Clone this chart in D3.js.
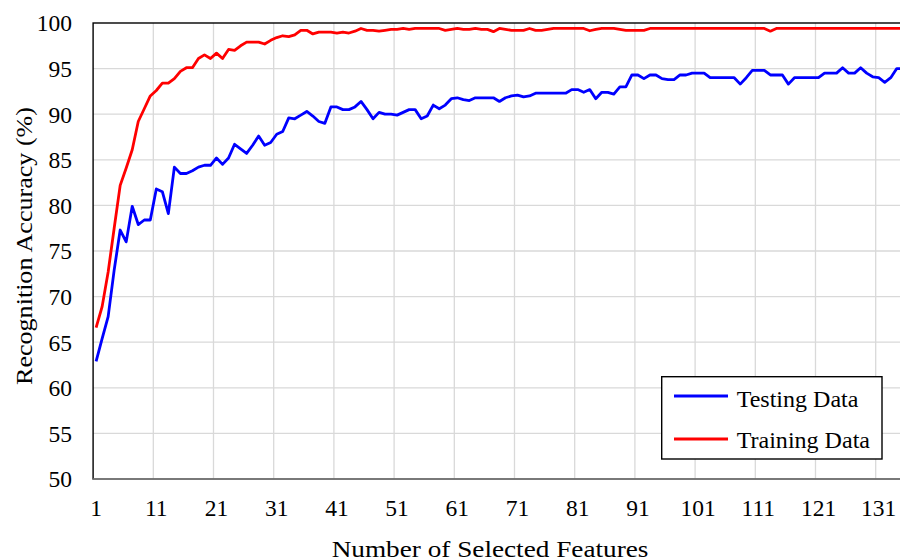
<!DOCTYPE html>
<html lang="en">
<head>
    <meta charset="utf-8">
    <title>Recognition Accuracy</title>
    <script src="https://d3js.org/d3.v7.min.js" charset="utf-8"></script>
    <style type="text/css">
        body {
            margin: 0;
            background: #fff;
        }
        svg text {
            font-family: "Liberation Serif", "Times New Roman", serif;
            fill: #000;
        }
    </style>
</head>
<body>
    <script type="text/javascript">
        // values, feature count 1..135
        var testing = [
            62.9, 65.4, 67.8, 72.9, 77.3, 76.0, 79.9, 77.9, 78.4, 78.4,
            81.8, 81.5, 79.1, 84.2, 83.5, 83.5, 83.8, 84.2, 84.4, 84.4,
            85.2, 84.5, 85.2, 86.7, 86.2, 85.7, 86.6, 87.6, 86.6, 86.9,
            87.8, 88.1, 89.6, 89.5, 89.9, 90.3, 89.8, 89.2, 89.0, 90.8,
            90.8, 90.5, 90.5, 90.8, 91.4, 90.5, 89.5, 90.2, 90.0, 90.0,
            89.9, 90.2, 90.5, 90.5, 89.5, 89.8, 91.0, 90.6, 91.0, 91.7,
            91.8, 91.6, 91.5, 91.8, 91.8, 91.8, 91.8, 91.4, 91.8, 92.0,
            92.1, 91.9, 92.0, 92.3, 92.3, 92.3, 92.3, 92.3, 92.3, 92.7,
            92.7, 92.4, 92.7, 91.7, 92.4, 92.4, 92.2, 93.0, 93.0, 94.3,
            94.3, 93.9, 94.3, 94.3, 93.9, 93.8, 93.8, 94.3, 94.3, 94.5,
            94.5, 94.5, 94.0, 94.0, 94.0, 94.0, 94.0, 93.3, 94.0, 94.8,
            94.8, 94.8, 94.3, 94.3, 94.3, 93.3, 94.0, 94.0, 94.0, 94.0,
            94.0, 94.5, 94.5, 94.5, 95.1, 94.5, 94.5, 95.1, 94.5, 94.1,
            94.0, 93.5, 94.0, 95.0, 95.0
        ];
        var training = [
            66.6, 68.9, 72.7, 77.5, 82.2, 84.1, 86.1, 89.2, 90.6, 92.0,
            92.6, 93.4, 93.4, 93.9, 94.7, 95.1, 95.1, 96.1, 96.5, 96.1,
            96.7, 96.1, 97.1, 97.0, 97.5, 97.9, 97.9, 97.9, 97.7, 98.1,
            98.4, 98.6, 98.5, 98.7, 99.2, 99.2, 98.8, 99.0, 99.0, 99.0,
            98.9, 99.0, 98.9, 99.1, 99.4, 99.2, 99.2, 99.1, 99.2, 99.3,
            99.3, 99.4, 99.3, 99.4, 99.4, 99.4, 99.4, 99.4, 99.2, 99.3,
            99.4, 99.3, 99.3, 99.4, 99.3, 99.3, 99.05, 99.4, 99.3, 99.2,
            99.2, 99.2, 99.4, 99.2, 99.2, 99.3, 99.4, 99.4, 99.4, 99.4,
            99.4, 99.4, 99.15, 99.3, 99.4, 99.4, 99.4, 99.3, 99.2, 99.2,
            99.2, 99.2, 99.4, 99.4, 99.4, 99.4, 99.4, 99.4, 99.4, 99.4,
            99.4, 99.4, 99.4, 99.4, 99.4, 99.4, 99.4, 99.4, 99.4, 99.4,
            99.4, 99.4, 99.1, 99.4, 99.4, 99.4, 99.4, 99.4, 99.4, 99.4,
            99.4, 99.4, 99.4, 99.4, 99.4, 99.4, 99.4, 99.4, 99.4, 99.4,
            99.4, 99.4, 99.4, 99.4, 99.4
        ];
        var xTicks = [1, 11, 21, 31, 41, 51, 61, 71, 81, 91, 101, 111, 121, 131];
        var yTicks = [50, 55, 60, 65, 70, 75, 80, 85, 90, 95, 100];
        var seriesNames = ["Testing Data", "Training Data"];
        var seriesColors = ["#0000ff", "#ff0000"];

        var width = 900;
        var height = 560;
        var plotLeft = 93.1, plotRight = 905.8, plotTop = 23, plotBottom = 479;

        var svg = d3.select("body")
                    .append("svg")
                    .attr("width", width)
                    .attr("height", height);

        var x = d3.scaleLinear().domain([0.5, 135.5]).range([plotLeft, plotRight]);
        var y = d3.scaleLinear().domain([50, 100]).range([plotBottom, plotTop]);

        // grid
        var grid = svg.append("g").attr("stroke", "#d9d9d9").attr("stroke-width", 1.3);
        grid.selectAll("line.h")
            .data(yTicks.slice(1, -1))
            .enter()
            .append("line")
            .attr("class", "h")
            .attr("x1", plotLeft).attr("x2", plotRight)
            .attr("y1", function(d) { return y(d); })
            .attr("y2", function(d) { return y(d); });
        grid.selectAll("line.v")
            .data(d3.range(10.5, 136, 10))
            .enter()
            .append("line")
            .attr("class", "v")
            .attr("y1", plotTop).attr("y2", plotBottom)
            .attr("x1", function(d) { return x(d); })
            .attr("x2", function(d) { return x(d); });

        // plot border
        svg.append("rect")
            .attr("x", plotLeft).attr("y", plotTop)
            .attr("width", plotRight - plotLeft).attr("height", plotBottom - plotTop)
            .attr("fill", "none")
            .attr("stroke", "#000")
            .attr("stroke-width", 1.4);

        // bottom axis line (grey)
        svg.append("line")
            .attr("x1", plotLeft).attr("x2", plotRight)
            .attr("y1", plotBottom).attr("y2", plotBottom)
            .attr("stroke", "#898989")
            .attr("stroke-width", 1.6);

        // lines
        var line = d3.line()
            .x(function(d, i) { return x(i + 1); })
            .y(function(d) { return y(d); });

        [testing, training].forEach(function(s, k) {
            svg.append("path")
                .datum(s)
                .attr("d", line)
                .attr("fill", "none")
                .attr("stroke", seriesColors[k])
                .attr("stroke-width", 2.8)
                .attr("stroke-linejoin", "round");
        });

        // y tick labels
        svg.selectAll("text.ylab")
            .data(yTicks)
            .enter()
            .append("text")
            .attr("class", "ylab")
            .attr("x", 72)
            .attr("y", function(d) { return y(d) + 8.3; })
            .attr("text-anchor", "end")
            .attr("font-size", "23.5px")
            .text(function(d) { return d; });

        // x tick labels
        svg.selectAll("text.xlab")
            .data(xTicks)
            .enter()
            .append("text")
            .attr("class", "xlab")
            .attr("x", function(d) { return x(d); })
            .attr("y", 516)
            .attr("text-anchor", "middle")
            .attr("font-size", "23.5px")
            .text(function(d) { return d; });

        // axis titles (stretched a little wider, as in the original)
        svg.append("text")
            .attr("x", 331.7)
            .attr("y", 556.5)
            .attr("font-size", "22.5px")
            .attr("textLength", 316.7)
            .attr("lengthAdjust", "spacingAndGlyphs")
            .text("Number of Selected Features");

        svg.append("text")
            .attr("transform", "translate(32, 385) rotate(-90)")
            .attr("font-size", "23px")
            .attr("textLength", 278)
            .attr("lengthAdjust", "spacingAndGlyphs")
            .text("Recognition Accuracy (%)");

        // legend
        var legendWidths = [121.7, 133.3];
        var lg = svg.append("g");
        lg.append("rect")
            .attr("x", 661.7).attr("y", 376.7)
            .attr("width", 220.3).attr("height", 82.3)
            .attr("fill", "#fff")
            .attr("stroke", "#000")
            .attr("stroke-width", 1.4);
        seriesNames.forEach(function(name, k) {
            var yy = 396 + k * 43;
            lg.append("line")
                .attr("x1", 674).attr("x2", 728)
                .attr("y1", yy).attr("y2", yy)
                .attr("stroke", seriesColors[k])
                .attr("stroke-width", 2.8);
            lg.append("text")
                .attr("x", 736.7)
                .attr("y", 406.7 + k * 41.6)
                .attr("font-size", "22.7px")
                .attr("textLength", legendWidths[k])
                .attr("lengthAdjust", "spacingAndGlyphs")
                .text(name);
        });
    </script>
</body>
</html>
